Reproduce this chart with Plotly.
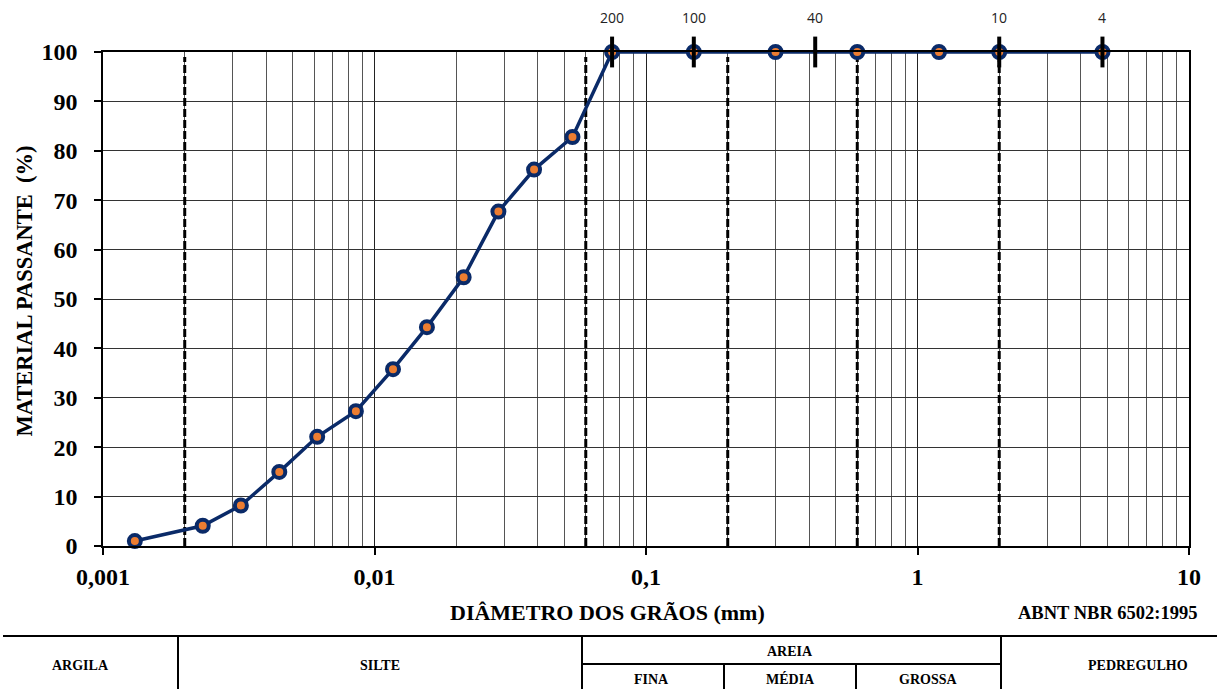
import numpy as np
import plotly.graph_objects as go

# ---------------- data ----------------
diametro_mm = [0.00131, 0.00233, 0.00322, 0.00446, 0.00615, 0.00854, 0.0117,
               0.0156, 0.0213, 0.0286, 0.0387, 0.0536, 0.075, 0.15, 0.30,
               0.60, 1.2, 2.0, 4.8]
passante_pct = [1.0, 4.1, 8.2, 15.0, 22.1, 27.3, 35.8, 44.3, 54.4, 67.7,
                76.2, 82.8, 100, 100, 100, 100, 100, 100, 100]

limites_mm = [0.002, 0.06, 0.2, 0.6, 2.0]          # ABNT NBR 6502 class limits
peneiras_mm = [0.075, 0.15, 0.42, 2.0, 4.8]         # sieve openings
peneiras_num = ["200", "100", "40", "10", "4"]

x_tickvals = [0.001, 0.01, 0.1, 1, 10]
x_ticktext = ["0,001", "0,01", "0,1", "1", "10"]
x_minor = [m * d for d in [0.001, 0.01, 0.1, 1] for m in range(2, 10)]
y_tickvals = list(range(0, 101, 10))

classes_top = ["ARGILA", "SILTE", "AREIA", "PEDREGULHO"]
classes_areia = ["FINA", "MÉDIA", "GROSSA"]

# ---------------- layout helpers ----------------
W, H = 1217, 689
L, R, T, B = 103, 28, 52, 143
PW, PH = W - L - R, H - T - B


def px(x):
    return (x - L) / PW


def py(y):
    return (T + PH - y) / PH


SERIF = "Liberation Serif"
NAVY = "#0A2A68"
ORANGE = "#ED7D31"

fig = go.Figure()

# dashed class-limit lines
for lim in limites_mm:
    fig.add_trace(go.Scatter(
        x=[lim, lim], y=[0, 99], mode="lines",
        line=dict(color="black", width=3, dash="8px,3px"),
        hoverinfo="skip", showlegend=False))

# grain size curve
fig.add_trace(go.Scatter(
    x=diametro_mm, y=passante_pct, mode="lines+markers",
    line=dict(color=NAVY, width=3.5),
    marker=dict(size=12, color=ORANGE, line=dict(color=NAVY, width=4)),
    cliponaxis=False, showlegend=False))

# sieve marks at top
fig.add_trace(go.Scatter(
    x=peneiras_mm, y=[100] * len(peneiras_mm), mode="markers",
    marker=dict(symbol="line-ns-open", size=22, color="black",
                line=dict(color="black", width=4)),
    cliponaxis=False, hoverinfo="skip", showlegend=False))

annotations = []
for v, lab in zip(peneiras_mm, peneiras_num):
    annotations.append(dict(
        x=np.log10(v), y=py(17), xref="x", yref="paper", text=lab,
        showarrow=False, xanchor="center", yanchor="middle",
        font=dict(family="Open Sans", size=14, color="#222")))

ctr = dict(showarrow=False, xanchor="center", yanchor="middle",
           xref="paper", yref="paper")

# titles
annotations.append(dict(
    x=px(23.5), y=py(291), text="MATERIAL PASSANTE\u00a0\u00a0(%)",
    textangle=-90,
    font=dict(family=SERIF, size=22.5, color="black", weight="bold"), **ctr))
annotations.append(dict(
    x=px(607), y=py(612), text="DIÂMETRO DOS GRÃOS (mm)",
    font=dict(family=SERIF, size=22, color="black", weight="bold"), **ctr))
annotations.append(dict(
    x=px(1108), y=py(612.5), text="ABNT NBR 6502:1995",
    font=dict(family=SERIF, size=18.5, color="black", weight="bold"), **ctr))

# classification table texts
tfont = dict(family=SERIF, size=14, color="black", weight="bold")
top_pos = [(80, 665), (380, 665), (790, 651), (1138, 665)]
for lab, (xx, yy) in zip(classes_top, top_pos):
    annotations.append(dict(x=px(xx), y=py(yy), text=lab, font=tfont, **ctr))
sub_pos = [(651, 679), (790, 679), (928, 679)]
for lab, (xx, yy) in zip(classes_areia, sub_pos):
    annotations.append(dict(x=px(xx), y=py(yy), text=lab, font=tfont, **ctr))

# table lines
shapes = []


def hline(x0, x1, y, w=2):
    shapes.append(dict(type="line", xref="paper", yref="paper",
                       x0=px(x0), x1=px(x1), y0=py(y), y1=py(y),
                       line=dict(color="black", width=w)))


def vline(x, y0, y1, w=2):
    shapes.append(dict(type="line", xref="paper", yref="paper",
                       x0=px(x), x1=px(x), y0=py(y0), y1=py(y1),
                       line=dict(color="black", width=w)))


hline(3, 1217, 636)
vline(178, 636, 689)
vline(582, 636, 689)
vline(1001, 636, 689)
hline(582, 1001, 664)
vline(724, 664, 689)
vline(856, 664, 689)

fig.update_layout(
    width=W, height=H,
    margin=dict(l=L, r=R, t=T, b=B),
    paper_bgcolor="white", plot_bgcolor="white",
    annotations=annotations, shapes=shapes,
    xaxis=dict(
        type="log", range=[-3, 1],
        tickmode="array", tickvals=x_tickvals, ticktext=x_ticktext,
        ticks="outside", ticklen=7, tickwidth=1.5, tickcolor="black",
        tickfont=dict(family=SERIF, size=24, color="black", weight="bold"),
        ticklabelstandoff=1,
        showgrid=True, gridcolor="#222", gridwidth=1,
        minor=dict(tickmode="array", tickvals=x_minor, showgrid=True,
                   gridcolor="#555", gridwidth=1, ticks=""),
        showline=True, linecolor="black", linewidth=1.5, mirror=True,
        zeroline=False),
    yaxis=dict(
        range=[0, 100], tickmode="array", tickvals=y_tickvals,
        ticks="outside", ticklen=7, tickwidth=1.5, tickcolor="black",
        tickfont=dict(family=SERIF, size=24, color="black", weight="bold"),
        ticklabelstandoff=12,
        showgrid=True, gridcolor="#333", gridwidth=1,
        showline=True, linecolor="black", linewidth=1.5, mirror=True,
        zeroline=False),
)

fig.write_html("out.html",
               config={"displayModeBar": False},
               post_script="document.body.style.margin='0px';"
                           "document.body.style.overflow='hidden';")
